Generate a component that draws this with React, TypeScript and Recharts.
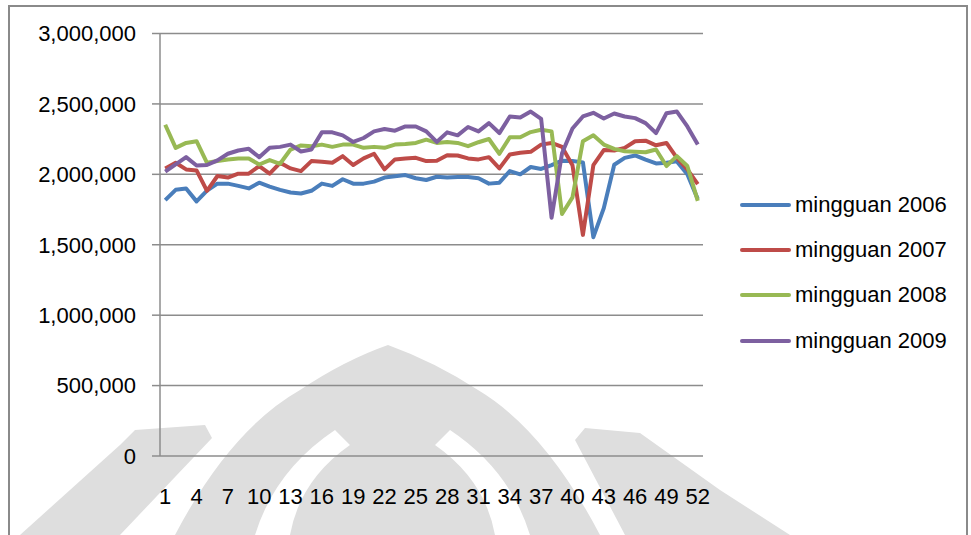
import React from "react";
import {
  LineChart,
  Line,
  XAxis,
  YAxis,
  CartesianGrid,
} from "recharts";

// weekly totals, in thousands
const weeks = Array.from({ length: 52 }, (_, i) => i + 1);

const mingguan2006 = [
  1817, 1890, 1899, 1808, 1885, 1934, 1934, 1918, 1900, 1941, 1913, 1890, 1871,
  1864, 1883, 1934, 1918, 1965, 1934, 1934, 1948, 1977, 1986, 1995, 1972, 1960,
  1983, 1977, 1981, 1981, 1972, 1934, 1941, 2023, 2000, 2052, 2038, 2066, 2097,
  2095, 2085, 1554, 1760, 2068, 2117, 2134, 2104, 2077, 2082, 2092, 2000, 1824,
];
const mingguan2007 = [
  2042, 2082, 2035, 2028, 1883, 1988, 1977, 2005, 2005, 2059, 2005, 2082, 2042,
  2023, 2094, 2089, 2082, 2129, 2066, 2113, 2146, 2035, 2106, 2113, 2117, 2094,
  2097, 2136, 2134, 2113, 2106, 2122, 2042, 2141, 2153, 2160, 2211, 2223, 2195,
  2065, 1570, 2065, 2172, 2169, 2188, 2235, 2239, 2206, 2223, 2117, 2035, 1930,
];
const mingguan2008 = [
  2352, 2188, 2223, 2235, 2082, 2094, 2106, 2113, 2113, 2070, 2101, 2075, 2176,
  2205, 2200, 2211, 2195, 2211, 2211, 2188, 2195, 2188, 2211, 2216, 2223, 2246,
  2223, 2230, 2223, 2200, 2228, 2251, 2146, 2263, 2263, 2300, 2317, 2305, 1718,
  1836, 2235, 2277, 2211, 2181, 2164, 2160, 2157, 2176, 2059, 2129, 2059, 1812,
];
const mingguan2009 = [
  2019, 2070, 2122, 2063, 2066, 2099, 2146, 2169, 2181, 2122, 2188, 2195, 2211,
  2162, 2176, 2298, 2298, 2277, 2230, 2258, 2305, 2322, 2310, 2340, 2340, 2305,
  2230, 2298, 2277, 2336, 2305, 2364, 2293, 2411, 2404, 2446, 2394, 1692, 2150,
  2325, 2411, 2437, 2396, 2432, 2411, 2399, 2364, 2293, 2434, 2446, 2340, 2211,
];

const seriesNames = ["mingguan 2006", "mingguan 2007", "mingguan 2008", "mingguan 2009"];
const seriesValues = [mingguan2006, mingguan2007, mingguan2008, mingguan2009];
const seriesColors = ["#4a7ebb", "#be4b48", "#98b954", "#7d60a0"];

const yTicks = [0, 500000, 1000000, 1500000, 2000000, 2500000, 3000000];
const xLabelTicks = [1, 4, 7, 10, 13, 16, 19, 22, 25, 28, 31, 34, 37, 40, 43, 46, 49, 52];

const data = weeks.map((w, i) => {
  const row: Record<string, number> = { week: w };
  seriesNames.forEach((name, s) => {
    row[name] = seriesValues[s][i] * 1000;
  });
  return row;
});

// tick marks sit between categories, like a category axis
const boundaryTicks = [...weeks.map((w) => w - 0.5), weeks.length + 0.5];

const FONT = "'Liberation Sans', Arial, sans-serif";
const GRAY = "#8c8c8c";

// faint emblem behind the plot
function Watermark() {
  return (
    <svg
      width={971}
      height={535}
      style={{ position: "absolute", left: 0, top: 0 }}
    >
      <g fill="#dedede">
        <path d="M20 535 L120 445 L135 430 L205 425 L212 438 L120 535 Z" />
        <path d="M175 535 Q230 430 300 390 Q345 360 388 345 Q435 362 478 390 Q545 430 600 535 Z" />
        <path d="M585 428 L640 433 L720 490 L790 535 L625 535 L575 440 Z" />
      </g>
      <g fill="#ffffff">
        <path d="M255 535 Q275 470 335 430 L350 445 Q300 480 290 535 Z" />
        <path d="M530 535 Q510 470 450 430 L435 445 Q485 480 495 535 Z" />
      </g>
    </svg>
  );
}

function Legend() {
  return (
    <div style={{ position: "absolute", left: 740, top: 182, fontFamily: FONT, fontSize: 22 }}>
      {seriesNames.map((name, i) => (
        <div
          key={name}
          style={{ display: "flex", alignItems: "center", height: 45.3 }}
        >
          <div
            style={{
              width: 51,
              height: 4,
              borderRadius: 2,
              background: seriesColors[i],
              marginRight: 4,
            }}
          />
          <span style={{ color: "#000" }}>{name}</span>
        </div>
      ))}
    </div>
  );
}

export default function App() {
  return (
    <div
      style={{
        position: "absolute",
        left: 0,
        top: 0,
        width: 971,
        height: 535,
        background: "#fff",
        overflow: "hidden",
      }}
    >
      <Watermark />
      <div
        style={{
          position: "absolute",
          left: 8,
          top: 5,
          width: 956,
          height: 560,
          border: "2px solid #8a8a8a",
        }}
      />
      <div style={{ position: "absolute", left: 0, top: 0 }}>
        <LineChart
          width={971}
          height={535}
          data={data}
          margin={{ top: 33.5, right: 268, bottom: 19, left: 0 }}
        >
          <CartesianGrid vertical={false} stroke={GRAY} strokeWidth={1.5} />
          <YAxis
            domain={[0, 3000000]}
            ticks={yTicks}
            interval={0}
            width={160}
            tickSize={8}
            tickMargin={16}
            tickFormatter={(v: number) => v.toLocaleString("en-US")}
            axisLine={{ stroke: GRAY, strokeWidth: 1.5 }}
            tickLine={{ stroke: GRAY, strokeWidth: 1.5 }}
            tick={{ fill: "#000", fontSize: 22, fontFamily: FONT }}
          />
          <XAxis
            xAxisId="marks"
            dataKey="week"
            type="number"
            domain={[0.5, 52.5]}
            ticks={boundaryTicks}
            interval={0}
            height={0}
            tickSize={7}
            tick={false}
            axisLine={{ stroke: GRAY, strokeWidth: 1.5 }}
            tickLine={{ stroke: GRAY, strokeWidth: 1.5 }}
          />
          <XAxis
            dataKey="week"
            type="number"
            domain={[0.5, 52.5]}
            ticks={xLabelTicks}
            interval={0}
            height={60}
            tickSize={0}
            tickMargin={32}
            axisLine={false}
            tickLine={false}
            tick={{ fill: "#000", fontSize: 22, fontFamily: FONT }}
          />
          {seriesNames.map((name, i) => (
            <Line
              key={name}
              dataKey={name}
              stroke={seriesColors[i]}
              strokeWidth={4}
              strokeLinejoin="round"
              dot={false}
              isAnimationActive={false}
            />
          ))}
        </LineChart>
      </div>
      <Legend />
    </div>
  );
}
